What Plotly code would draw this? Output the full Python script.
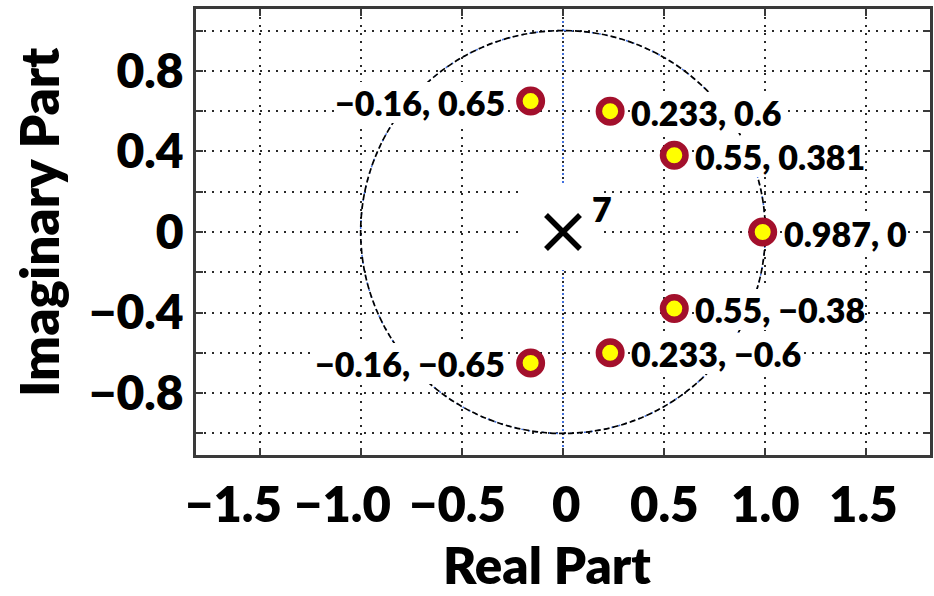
import plotly.graph_objects as go

# Zeros and poles of the filter (real part, imaginary part)
zero_re = [-0.16, 0.233, 0.55, 0.987, 0.55, 0.233, -0.16]
zero_im = [0.65, 0.6, 0.381, 0, -0.38, -0.6, -0.65]
pole_re = [0]
pole_im = [0]
pole_order = 7

# Axis ticks
x_ticks = [-1.5, -1.0, -0.5, 0, 0.5, 1.0, 1.5]
x_ticktext = ["−1.5", "−1.0", "−0.5", "0", "0.5", "1.0", "1.5"]
y_ticks = [-1.0, -0.8, -0.6, -0.4, -0.2, 0, 0.2, 0.4, 0.6, 0.8, 1.0]
y_ticktext = ["", "−0.8", "", "−0.4", "", "0", "", "0.4", "", "0.8", ""]

# horizontal nudges (px) of the x tick labels
x_label_nudge = [-26, -18, -4, 3, 0, 0, -3]

FONT = "Lato"
WEIGHT = 800
INK = "#000000"
FRAME = "#3a3a3a"
GRID = "#2a2a2a"
BLUE = "#3f6fe0"
RED = "#a3102c"
YELLOW = "#ffff00"

# plot area in pixels
L, R, T, B = 196, 930, 9, 455


def fmt(v):
    return format(v, "g").replace("-", "−")


def paper_y(py):
    return (B - py) / (B - T)


def paper_x(px):
    return (px - L) / (R - L)


fig = go.Figure()

# zeros
fig.add_trace(go.Scatter(
    x=zero_re, y=zero_im, mode="markers",
    marker=dict(symbol="circle", size=22.5, color=YELLOW,
                line=dict(color=RED, width=6.5)),
    hoverinfo="skip", showlegend=False,
))

# poles
fig.add_trace(go.Scatter(
    x=pole_re, y=pole_im, mode="markers",
    marker=dict(symbol="x-thin", size=34, color=INK,
                line=dict(color=INK, width=5.5)),
    hoverinfo="skip", showlegend=False,
))

shapes = []
# zero lines: erase the black grid dots, then draw blue dotted lines
shapes.append(dict(type="line", xref="x", yref="paper", x0=0, x1=0, y0=0, y1=1,
                   line=dict(color="white", width=4), layer="between"))
shapes.append(dict(type="line", xref="paper", yref="y", x0=0, x1=1, y0=0, y1=0,
                   line=dict(color="white", width=4), layer="between"))
shapes.append(dict(type="line", xref="x", yref="paper", x0=0, x1=0, y0=0, y1=1,
                   line=dict(color=BLUE, width=2, dash="2px,6px"), layer="between"))
shapes.append(dict(type="line", xref="paper", yref="y", x0=0, x1=1, y0=0, y1=0,
                   line=dict(color=BLUE, width=2, dash="2px,6px"), layer="between"))
# unit circle: blue dotted underneath, black dashed on top
shapes.append(dict(type="circle", xref="x", yref="y", x0=-1, x1=1, y0=-1, y1=1,
                   line=dict(color=BLUE, width=1.5, dash="2px,5px"), layer="between"))
shapes.append(dict(type="circle", xref="x", yref="y", x0=-1, x1=1, y0=-1, y1=1,
                   line=dict(color=INK, width=1.7, dash="6px,3px"), layer="between"))
# white patch behind the pole marker and its order
shapes.append(dict(type="rect", xref="x", yref="y", xsizemode="pixel", ysizemode="pixel",
                   xanchor=pole_re[0], yanchor=pole_im[0],
                   x0=-41, x1=41, y0=-38, y1=49,
                   fillcolor="white", line=dict(width=0), layer="between"))

annotations = []
for re, im in zip(zero_re, zero_im):
    left = re < 0
    annotations.append(dict(
        x=re, y=im, xref="x", yref="y", showarrow=False,
        text=f"{fmt(re)}, {fmt(im)}",
        xanchor="right" if left else "left", yanchor="middle",
        xshift=-26 if left else 21, yshift=-1,
        font=dict(family=FONT, size=34, color=INK, weight=WEIGHT),
        bgcolor="white", borderpad=0, borderwidth=0,
    ))

# multiplicity of the pole
annotations.append(dict(
    x=pole_re[0], y=pole_im[0], xref="x", yref="y", showarrow=False,
    text=str(pole_order), xanchor="center", yanchor="middle",
    xshift=39, yshift=24,
    font=dict(family=FONT, size=34, color=INK, weight=WEIGHT),
))

# x tick labels
for xv, txt, dx in zip(x_ticks, x_ticktext, x_label_nudge):
    annotations.append(dict(
        x=xv, y=paper_y(503), xref="x", yref="paper", showarrow=False,
        text=txt, xanchor="center", yanchor="middle", xshift=dx,
        font=dict(family=FONT, size=49, color=INK, weight=WEIGHT),
    ))

# axis titles
annotations.append(dict(
    x=paper_x(547), y=paper_y(564), xref="paper", yref="paper",
    text="Real Part", showarrow=False, xanchor="center", yanchor="middle",
    font=dict(family=FONT, size=51, color=INK, weight=WEIGHT),
))
annotations.append(dict(
    x=paper_x(38), y=paper_y(222), xref="paper", yref="paper",
    text="Imaginary Part", showarrow=False, xanchor="center", yanchor="middle",
    textangle=-90,
    font=dict(family=FONT, size=53, color=INK, weight=WEIGHT),
))

axis_common = dict(
    showline=True, linecolor=FRAME, linewidth=2.5, mirror="ticks",
    ticks="inside", ticklen=7, tickwidth=2, tickcolor=FRAME,
    showgrid=True, gridcolor=GRID, gridwidth=2, griddash="2px,6px",
    zeroline=False, tickmode="array", tickangle=0, automargin=False,
)

fig.update_layout(
    width=934, height=596,
    margin=dict(l=L, r=934 - R, t=T, b=596 - B),
    paper_bgcolor="white", plot_bgcolor="white",
    xaxis=dict(range=[-1.814, 1.814], tickvals=x_ticks, ticktext=x_ticktext,
               showticklabels=False, **axis_common),
    yaxis=dict(range=[-1.107, 1.107], tickvals=y_ticks, ticktext=y_ticktext,
               ticklabelstandoff=0,
               tickfont=dict(family=FONT, size=48, color=INK, weight=WEIGHT),
               **axis_common),
    shapes=shapes, annotations=annotations,
    showlegend=False,
)

fig.write_html("out.html")
